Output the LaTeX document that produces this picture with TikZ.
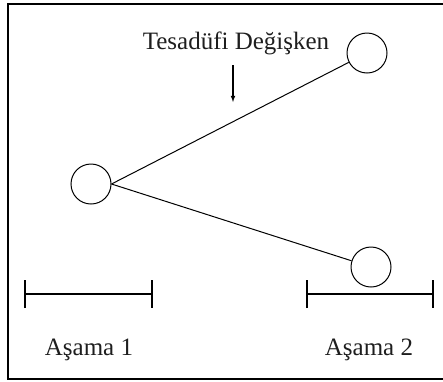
\documentclass[tikz,border=0pt]{standalone}
\usepackage{fontspec}
\setmainfont{Liberation Serif}
\usetikzlibrary{arrows.meta}
\usepackage{xcolor}
\definecolor{darkText}{RGB}{30, 30, 30}
\definecolor{frameLine}{RGB}{0, 0, 0}

\begin{document}
\begin{tikzpicture}[>=latex, x=1pt, y=-1pt]

  % Page size (pixel grid of the original figure, y pointing down)
  \useasboundingbox (0, 0) rectangle (443, 381);

  % Frame: top, left and bottom edges only
  \draw[frameLine, line width=2.4pt] (443, 4) -- (8, 4) -- (8, 379) -- (443, 379);

  % Helper styles
  \tikzset{
    state/.style={
      circle, draw, line width=1pt,
      minimum size=40pt, inner sep=0pt
    },
    branch/.style={line width=1pt},
    stage/.style={
      line width=1.6pt,
      {Bar[width=28pt]}-{Bar[width=28pt]}
    },
    label/.style={
      font=\fontsize{25}{29}\selectfont,
      text=darkText
    }
  }

  % --- Decision nodes ---
  \node[state] (root)  at (91, 184) {};
  \node[state] (upper) at (367, 53) {};
  \node[state] (lower) at (371, 267) {};

  % Branches leave the east side of the root
  \draw[branch] (root.east) -- (upper);
  \draw[branch] (root.east) -- (lower);

  % Random variable label with its arrow
  \node[label] (rv) at (236, 43) {Tesadüfi Değişken};
  \coordinate (rvTop) at (233, 65);
  \coordinate (rvTip) at (233, 102);
  \draw[->, line width=1.1pt] (rvTop) -- (rvTip);

  % --- Stages ---
  \coordinate (s1a) at (24, 294);
  \coordinate (s1b) at (153, 294);
  \coordinate (s2a) at (306, 294);
  \coordinate (s2b) at (434, 294);
  \draw[stage] (s1a) -- (s1b);
  \draw[stage] (s2a) -- (s2b);

  \node[label] (stage1) at (89, 350) {Aşama 1};
  \node[label] (stage2) at (369, 350) {Aşama 2};

\end{tikzpicture}
\end{document}
